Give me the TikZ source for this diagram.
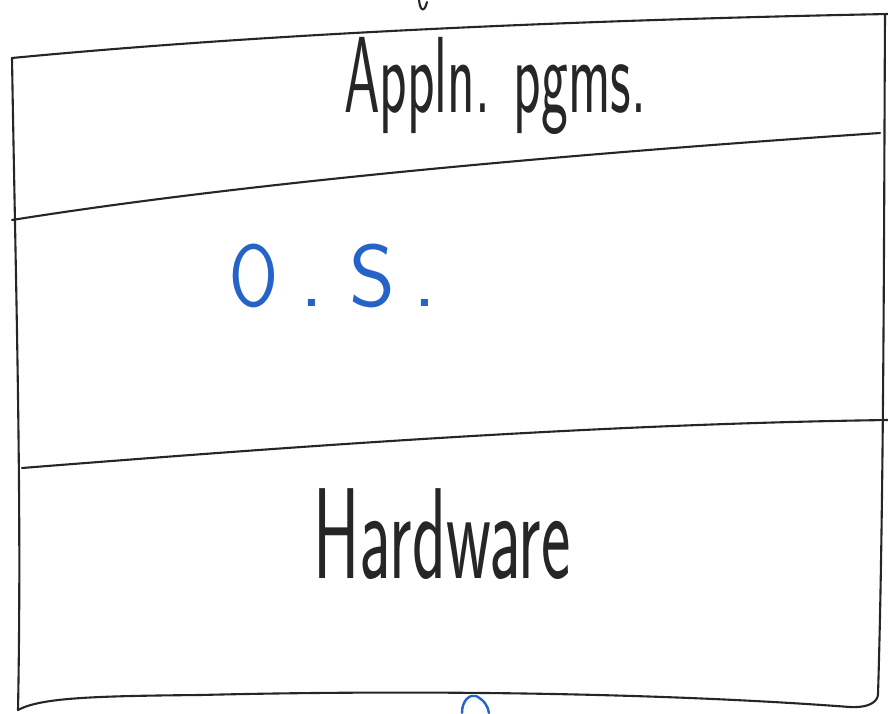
\documentclass[tikz,border=0pt]{standalone}
\usepackage{xcolor}
\usepackage{graphicx}
\definecolor{ink}{HTML}{262626}
\definecolor{bluepen}{HTML}{2563C8}
\tikzset{
  pen/.style={draw=ink, line width=2.1pt, line cap=round, line join=round},
  bpen/.style={draw=bluepen, line width=2.4pt, line cap=round},
  hand/.style={text=ink, font=\sffamily, inner sep=0pt, anchor=base},
  bhand/.style={text=bluepen, font=\sffamily, inner sep=0pt, anchor=base},
}
% tall, narrow lettering
\newcommand{\tallword}[2]{\scalebox{1}[#1]{#2}}

\begin{document}
\begin{tikzpicture}[x=1pt,y=-1pt]
  \useasboundingbox[fill=white] (0,0) rectangle (888,713);
  % corners of the layered box
  \coordinate (tl) at (12,58);
  \coordinate (tr) at (888,14);
  \coordinate (bl) at (18,710);
  \coordinate (br) at (878,694);
  % outline
  \draw[pen] (tl) .. controls (200,40) and (480,22) .. (tr);
  \draw[pen] (tl) .. controls (16,300) and (22,500) .. (bl);
  \draw[pen] (bl) .. controls (40,698) and (90,696) .. (200,695)
    .. controls (400,690) and (650,692) .. (850,707)
    .. controls (872,708) and (878,700) .. (br);
  \draw[pen] (br) .. controls (884,500) and (884,200) .. (885,14);
  % layer boundaries
  \draw[pen] (12,220) .. controls (200,190) and (480,160) .. (880,133);
  \draw[pen] (22,468) .. controls (300,446) and (600,424) .. (888,420);
  % layer names
  \node[hand, font=\sffamily\fontsize{57}{57}\selectfont] (appl) at (495,112)
    {\tallword{1.9}{Appln. pgms.}};
  \node[bhand, font=\sffamily\fontsize{88}{88}\selectfont] (os) at (333,306)
    {\scalebox{0.8}[1]{O}\hspace{22pt}.\hspace{26pt}S\hspace{18pt}.};
  \node[hand, font=\sffamily\fontsize{70}{70}\selectfont] (hw) at (442,578)
    {\tallword{1.85}{Hardware}};
  % strokes cut off at the edges
  \draw[pen] (419,0) .. controls (420,10) and (424,14) .. (427,2);
  \draw[bpen] (462,713) .. controls (462,700) and (470,694) .. (476,696)
    .. controls (484,700) and (488,706) .. (489,713);
\end{tikzpicture}
\end{document}
